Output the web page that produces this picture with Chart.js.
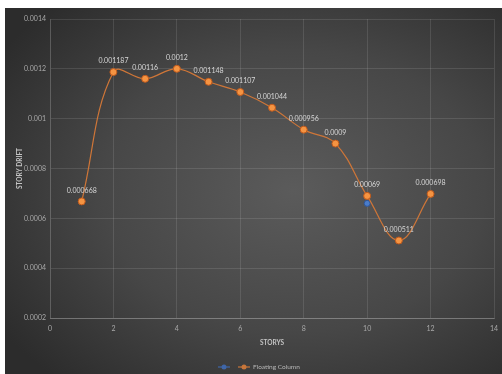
<!DOCTYPE html>
<html>
<head>
<meta charset="utf-8">
<script src="https://cdn.jsdelivr.net/npm/chart.js@4/dist/chart.umd.min.js"></script>
<style>
  html, body { margin: 0; padding: 0; background: #fff; }
  #wrap {
    position: absolute; left: 5px; top: 8px; width: 497px; height: 366px;
    background: radial-gradient(ellipse 70% 70% at 58% 50%, #5b5b5b 0%, #474747 55%, #2c2c2c 100%);
  }
</style>
</head>
<body>
<div id="wrap"><canvas id="drift"></canvas></div>
<script>
// ── Data ─────────────────────────────────────────────────────
const stories      = [1, 2, 3, 4, 5, 6, 7, 8, 9, 10, 11, 12];
const floatingCol  = [0.000668, 0.001187, 0.00116, 0.0012, 0.001148, 0.001107,
                      0.001044, 0.000956, 0.0009, 0.00069, 0.000511, 0.000698];
const otherSeries  = [0.000668, 0.001187, 0.00116, 0.0012, 0.001148, 0.001107,
                      0.001044, 0.000956, 0.0009, 0.00066, 0.000511, 0.000698];
const xTicks = [0, 2, 4, 6, 8, 10, 12, 14];
const yTicks = [0.0002, 0.0004, 0.0006, 0.0008, 0.001, 0.0012, 0.0014];

const FONT = "Lato, 'Open Sans', sans-serif";
const grid = 'rgba(255,255,255,0.11)';

// ── Value labels above the orange points ─────────────────────
const pointLabels = {
  id: 'point-labels',
  afterDatasetsDraw(chart) {
    const { ctx } = chart;
    const meta = chart.getDatasetMeta(0);
    ctx.save();
    ctx.font = `7px ${FONT}`;
    ctx.fillStyle = '#d6d6d6';
    ctx.textAlign = 'center';
    ctx.textBaseline = 'middle';
    meta.data.forEach((pt, i) => {
      ctx.fillText(String(floatingCol[i]), pt.x, pt.y - 11);
    });
    ctx.restore();
  }
};

// ── Excel-like legend (line + marker) under the axis title ───
const lineLegend = {
  id: 'line-legend',
  afterDraw(chart) {
    const { ctx, chartArea } = chart;
    const cx = (chartArea.left + chartArea.right) / 2 - 54;
    const cy = chart.height - 7;
    const items = [
      { color: '#3f66a8', text: '' },
      { color: '#c8763a', text: 'Floating Column' },
    ];
    ctx.save();
    ctx.font = `6.5px ${FONT}`;
    ctx.textBaseline = 'middle';
    let x = cx;
    items.forEach(it => {
      ctx.strokeStyle = it.color;
      ctx.lineWidth = 1.2;
      ctx.beginPath(); ctx.moveTo(x, cy); ctx.lineTo(x + 12, cy); ctx.stroke();
      ctx.fillStyle = it.color;
      ctx.beginPath(); ctx.arc(x + 6, cy, 2.5, 0, Math.PI * 2); ctx.fill();
      x += 14;
      if (it.text) {
        ctx.fillStyle = '#b8b8b8';
        ctx.fillText(it.text, x + 1, cy);
        x += ctx.measureText(it.text).width + 6;
      } else {
        x += 6;
      }
    });
    ctx.restore();
  }
};

new Chart(document.getElementById('drift'), {
  type: 'line',
  data: {
    datasets: [{
      label: 'Floating Column',
      data: stories.map((s, i) => ({ x: s, y: floatingCol[i] })),
      borderColor: '#cf7638',
      backgroundColor: '#ed8a3e',
      borderWidth: 1.2,
      tension: 0.4,
      pointRadius: 3.5,
      pointBackgroundColor: '#f59442',
      pointBorderColor: '#c0591a',
      pointBorderWidth: 1,
    }, {
      label: '',
      data: stories.map((s, i) => ({ x: s, y: otherSeries[i] })),
      showLine: false,
      pointRadius: 3,
      pointBackgroundColor: '#4a7cc9',
      pointBorderColor: '#2f5597',
      pointBorderWidth: 1,
      borderColor: '#4472c4',
      backgroundColor: '#4472c4',
    }]
  },
  options: {
    responsive: true,
    maintainAspectRatio: false,
    animation: false,
    layout: { padding: { top: 11, right: 0, left: 0, bottom: 0 } },
    plugins: {
      tooltip: { enabled: false },
      legend: { display: false }
    },
    scales: {
      x: {
        type: 'linear',
        min: 0, max: 14,
        afterBuildTicks: s => { s.ticks = xTicks.map(v => ({ value: v })); },
        afterFit: s => { s.height = 56; s.paddingRight = 8; },
        grid: { color: grid, drawTicks: false },
        border: { color: 'rgba(255,255,255,0.22)' },
        ticks: { color: '#a8a8a8', font: { family: FONT, size: 7 }, padding: 7 },
        title: {
          display: true, text: 'STORYS', color: '#c4c4c4',
          font: { family: FONT, size: 6.5, weight: 'bold' },
          padding: { top: 5, bottom: 27 }
        }
      },
      y: {
        min: 0.0002, max: 0.0014,
        afterBuildTicks: s => { s.ticks = yTicks.map(v => ({ value: v })); },
        afterFit: s => { s.width = 45; },
        grid: { color: grid, drawTicks: false },
        border: { color: grid },
        ticks: {
          color: '#a8a8a8', font: { family: FONT, size: 7 }, padding: 4,
          callback: v => String(parseFloat(v.toFixed(4)))
        },
        title: {
          display: true, text: 'STORY DRIFT', color: '#c4c4c4',
          font: { family: FONT, size: 6.5, weight: 'bold' },
          padding: { top: 11, bottom: 0 }
        }
      }
    }
  },
  plugins: [pointLabels, lineLegend]
});
</script>
</body>
</html>
